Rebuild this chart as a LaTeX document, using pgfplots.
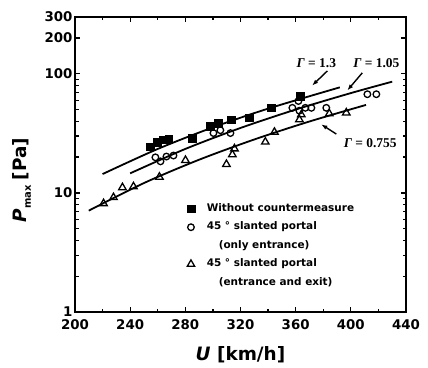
\documentclass[border=0pt]{standalone}
\usepackage{fontspec}
\setmainfont{DejaVu Sans}
\newfontfamily\serifG{Liberation Serif}
\usepackage{pgfplots}
\pgfplotsset{compat=1.18}
\usetikzlibrary{arrows.meta}
\begin{document}
\begin{tikzpicture}
\begin{axis}[
  name=ax,
  scale only axis,
  width=331bp, height=295bp,
  xmin=200, xmax=440, ymin=1, ymax=300,
  ymode=log,
  clip=false,
  xtick={200,240,...,440},
  minor xtick={220,260,...,420},
  ytick={1,10,100,200,300},
  yticklabels={1,10,100,200,300},
  minor ytick={2,3,4,5,6,7,8,9,20,30,40,50,60,70,80,90},
  tick align=inside,
  major tick length=5bp, minor tick length=3.5bp,
  every tick/.style={black, line width=1.3bp},
  axis line style={line width=2.4bp},
  tick label style={font=\fontsize{13.4}{14}\selectfont\bfseries},
  /pgf/number format/assume math mode=true,
  xticklabel style={yshift=-4bp},
  yticklabel style={xshift=1bp},
  legend style={draw=none, fill=none, at={(rel axis cs:0.315,0.382)}, anchor=north west,
    font=\fontsize{10.5}{11}\selectfont\bfseries, row sep=4bp, column sep=10bp,
    nodes={text height=8bp, text depth=2.5bp}},
  legend cell align=left,
]
% fitted curves
\addplot[black, line width=1.8bp, smooth, forget plot] coordinates {(220,14.4) (260,23.4) (300,35.5) (340,51.0) (392,77.0)};
\addplot[black, line width=1.8bp, smooth, forget plot] coordinates {(240,14.6) (280,23.4) (320,35.1) (360,50.1) (400,68.9) (430,85.9)};
\addplot[black, line width=1.8bp, smooth, forget plot] coordinates {(210,7.1) (250,12.1) (290,19.0) (330,28.1) (370,39.8) (411,54.8)};
% data
\addplot[only marks, mark=square*, mark size=3.8bp, black] coordinates {
(254.7,24.4) (259.8,26.8) (264.1,27.9) (267.8,28.4) (285.1,28.9) (298.2,36.2)
(304,38.4) (313.4,41.3) (326.4,42.9) (342.4,51.8) (363.4,64.9)};
\addlegendentry{Without countermeasure}
\addplot[only marks, mark=o, mark size=3.3bp, black, mark options={line width=1.3bp, fill=white}] coordinates {
(258.3,19.9) (262,18.4) (266.3,20.2) (271.4,20.6) (300.4,31.8) (305.4,33.6) (312.7,31.8)
(357.6,51.8) (362.0,59.1) (362.7,49.0) (367.0,51.8) (371.4,51.8) (382.2,51.8) (412,67.4) (418.5,67.4)};
\addlegendentry{45 ° slanted portal}
\addlegendimage{empty legend}
\addlegendentry{\hspace{12bp}(only entrance)}
\addplot[only marks, mark=triangle, mark size=4.3bp, black, mark options={line width=1.3bp}] coordinates {
(220.7,8.15) (227.9,9.16) (234.4,11.1) (242.4,11.3) (261.2,13.6) (280.1,18.8) (309.8,17.4)
(314.1,21.0) (315.6,23.5) (338.0,26.8) (344.6,32.4) (362.7,41.3) (364.1,45.4) (384.4,46.3) (396.7,47.1)};
\addlegendentry{45 ° slanted portal}
\addlegendimage{empty legend}
\addlegendentry{\hspace{12bp}(entrance and exit)}
% annotations
\node[font=\serifG\bfseries\fontsize{13.5}{14}\selectfont] at (axis cs:375,123) {{\itshape Γ} = 1.3};
\node[font=\serifG\bfseries\fontsize{13.5}{14}\selectfont] at (axis cs:418.5,123) {{\itshape Γ} = 1.05};
\node[font=\serifG\bfseries\fontsize{13.5}{14}\selectfont] at (axis cs:414.1,26.3) {{\itshape Γ} = 0.755};
\draw[-{Latex[length=6bp,width=4.5bp]}, line width=1.4bp] (axis cs:383,105.8) -- (axis cs:372,79.8);
\draw[-{Latex[length=6bp,width=4.5bp]}, line width=1.4bp] (axis cs:408.3,101.9) -- (axis cs:397.5,72.6);
\draw[-{Latex[length=6bp,width=4.5bp]}, line width=1.4bp] (axis cs:389.5,31.2) -- (axis cs:378.6,37.6);
% axis labels
\node[font=\bfseries\fontsize{18.5}{19}\selectfont] at ([yshift=-43bp]rel axis cs:0.5,0) {\itshape U\upshape\ [km/h]};
\node[font=\bfseries\fontsize{18.5}{19}\selectfont, rotate=90] at ([xshift=-53bp]rel axis cs:0,0.447) {\itshape P\upshape\kern0.5bp\raisebox{-4bp}{\fontsize{10}{10}\selectfont max}\hspace{5bp}[Pa]};
\end{axis}
\pgfresetboundingbox
\path[use as bounding box] ([xshift=-75bp,yshift=-56bp]ax.south west) rectangle ([xshift=22bp,yshift=17bp]ax.north east);
\end{tikzpicture}
\end{document}
